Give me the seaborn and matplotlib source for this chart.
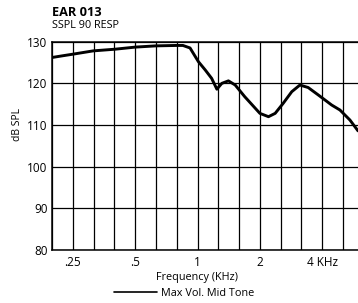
import numpy as np
import matplotlib
matplotlib.use('Agg')
import matplotlib.pyplot as plt
import seaborn as sns
from matplotlib.ticker import FixedLocator, NullFormatter

# frequency response (KHz, dB SPL)
freq = [0.198, 0.222, 0.25, 0.314, 0.40, 0.5, 0.63, 0.79, 0.85, 0.92,
        1.01, 1.09, 1.17, 1.24, 1.31, 1.41, 1.52, 1.69, 2.0, 2.20,
        2.37, 2.59, 2.85, 3.12, 3.42, 3.83, 4.44, 4.87, 5.44, 5.95]
spl = [126.2, 126.6, 127.0, 127.8, 128.2, 128.7, 129.0, 129.1, 129.1, 128.5,
       125.2, 123.2, 121.2, 118.6, 120.0, 120.6, 119.6, 116.8, 112.8, 112.0,
       112.8, 115.2, 118.0, 119.6, 119.0, 117.2, 114.8, 113.6, 111.2, 108.6]

tick_freqs = [0.25, 0.5, 1, 2, 4]
tick_labels = ['.25', '.5', '1', '2', '4 KHz']
y_ticks = [80, 90, 100, 110, 120, 130]

sns.set_style('white')
plt.rcParams['font.family'] = ['Open Sans', 'DejaVu Sans']
plt.rcParams['text.color'] = 'black'

fig = plt.figure(figsize=(3.58, 3.03), dpi=100)
ax = fig.add_axes([51.7/358, 1 - 250/303, 1 - 51.7/358, (250 - 41.7)/303])

sns.lineplot(x=freq, y=spl, ax=ax, color='black', linewidth=2.1,
             label='Max Vol. Mid Tone')

ax.set_xscale('log')
ax.set_xlim(0.1978, 5.95)
ax.set_ylim(80, 130)

# 1/3 octave grid
grid_f = [0.25 * 2 ** (k / 3) for k in range(-1, 16)]
ax.xaxis.set_minor_locator(FixedLocator(grid_f))
ax.xaxis.set_minor_formatter(NullFormatter())
ax.set_xticks(tick_freqs)
ax.set_xticklabels(tick_labels)
ax.set_yticks(y_ticks)
ax.grid(True, which='both', color='black', linewidth=0.9)
ax.tick_params(which='both', length=0, labelsize=8.5, colors='black')
ax.tick_params(axis='x', pad=4)
ax.tick_params(axis='y', pad=3)

for s in ['left', 'bottom', 'top']:
    ax.spines[s].set_visible(True)
    ax.spines[s].set_color('black')
    ax.spines[s].set_linewidth(1.1)
ax.spines['right'].set_visible(False)

ax.set_xlabel('')
ax.set_ylabel('')
fig.text(17/358, 1 - 124/303, 'dB SPL', rotation=90, ha='center', va='center', fontsize=7.5)
fig.text(197/358, 1 - 277.5/303, 'Frequency (KHz)', ha='center', va='center', fontsize=7.8)
fig.text(52/358, 1 - 12/303, 'EAR 013', ha='left', va='center', fontsize=9.2, fontweight='bold')
fig.text(52/358, 1 - 25.5/303, 'SSPL 90 RESP', ha='left', va='center', fontsize=7.8)

leg = ax.legend(loc='center', bbox_to_anchor=(184/358, 1 - 293/303), bbox_transform=fig.transFigure,
                frameon=False, fontsize=7.8, handlelength=4.0, handletextpad=0.4,
                borderpad=0, borderaxespad=0)
for line in leg.get_lines():
    line.set_linewidth(1.2)

fig.savefig('out.png', dpi=100)
